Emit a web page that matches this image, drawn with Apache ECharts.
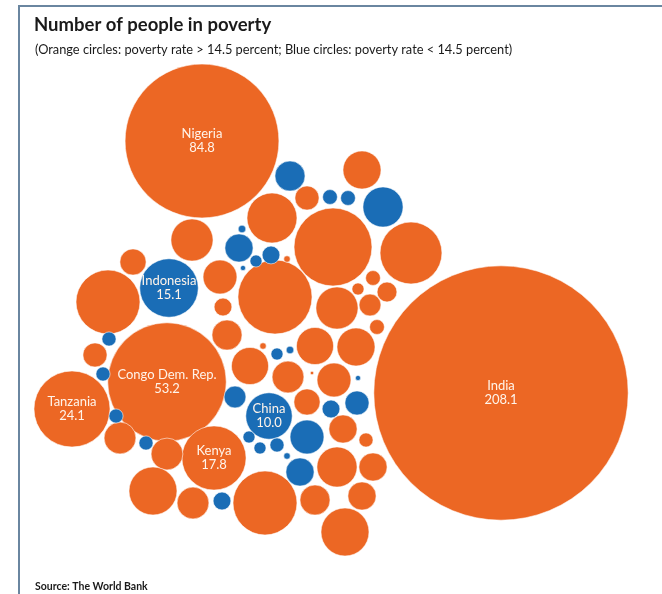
<!DOCTYPE html>
<html>
<head>
<meta charset="utf-8">
<title>Number of people in poverty</title>
<script src="https://cdn.jsdelivr.net/npm/echarts@6/dist/echarts.min.js"></script>
<style>
	html, body { margin: 0; padding: 0; background: #fff; }
	#chart { width: 662px; height: 594px; }
</style>
</head>
<body>
<div id="chart"></div>
<script>
// people in poverty (millions), one circle per country
// layoutX / layoutY = where the circle sits in the packed layout

// poverty rate > 14.5 percent
var highNames = ['India', 'Nigeria', 'Congo Dem. Rep.', 'Tanzania', 'Kenya',
	'', '', '', '', '', '', '', '', '', '', '', '', '', '', '', '', '', '', '', '', '',
	'', '', '', '', '', '', '', '', '', '', '', '', '', '', '', '', '', '', '', ''];
var highValues = [208.1, 84.8, 53.2, 24.1, 17.8,
	8.4, 3.6, 17.7, 3.1, 5.1, 5.1, 10.6, 5.1, 17.7, 4.6, 10.6, 4.1, 4.1, 7.7, 4.1,
	1.2, 3.6, 5.7, 5.1, 0.1, 6.7, 0.3, 4.6, 6.7, 7.0, 1.3, 2.6, 2.2, 0.9, 1.3,
	8.4, 23.0, 1.8, 5.7, 0.3, 11.4, 25.2, 16.7, 3.1, 7.0];
var highX = [501, 202, 167, 72, 214,
	192, 133, 108, 95, 120, 167, 153, 193, 265, 315, 345, 362, 373, 337, 343,
	366, 307, 334, 288, 312, 250, 263, 227, 315, 356, 377, 370, 387, 358, 373,
	337, 275, 223, 220, 287, 272, 333, 411, 307, 362];
var highY = [393, 141, 382, 409, 458,
	240, 262, 302, 355, 438, 454, 491, 503, 503, 500, 532, 496, 467, 467, 429,
	440, 402, 380, 377, 373, 366, 346, 335, 346, 347, 327, 305, 292, 289, 278,
	308, 297, 307, 277, 259, 218, 247, 253, 198, 170];

// poverty rate < 14.5 percent
var lowNames = ['Indonesia', 'China',
	'', '', '', '', '', '', '', '', '', '', '', '', '', '', '', '', '', '', '', '', '', '', '', '', '', ''];
var lowValues = [15.1, 10.0,
	4.6, 1.3, 1.3, 7.7, 0.4, 4.1, 0.9, 1.8, 0.2, 1.2, 1.2, 1.2, 1.2, 1.8,
	2.6, 0.9, 0.4, 0.2, 1.8, 3.1, 5.7, 4.1, 0.9, 0.9, 1.2, 0.3];
var lowX = [169, 269,
	290, 330, 348, 383, 242, 239, 256, 271, 243, 109, 103, 116, 146, 222,
	235, 277, 290, 358, 331, 357, 307, 300, 249, 260, 277, 287];
var lowY = [288, 416,
	176, 197, 198, 207, 229, 248, 261, 255, 268, 339, 374, 416, 443, 501,
	397, 354, 350, 378, 409, 403, 437, 472, 437, 448, 445, 456];

var titleText = 'Number of people in poverty';
var subText = '(Orange circles: poverty rate > 14.5 percent; Blue circles: poverty rate < 14.5 percent)';
var sourceText = 'Source: The World Bank';

function buildData(names, xs, ys, values) {
	var list = [];
	for (var i = 0; i < values.length; i++) {
		list.push({ name: names[i], value: [xs[i], ys[i], values[i]] });
	}
	return list;
}

// radius grows a bit faster than sqrt in the original graphic
function bubbleSize(val) {
	return 2 * 6.4 * Math.pow(val[2], 0.56);
}

var labelStyle = {
	show: true,
	position: 'inside',
	color: '#fff4ea',
	fontFamily: 'Lato, "Open Sans", sans-serif',
	fontSize: 13,
	lineHeight: 14,
	formatter: function (p) {
		if (!p.name) {
			return '';
		}
		return p.name + '\n' + p.value[2].toFixed(1);
	}
};

var myChart = echarts.init(document.getElementById('chart'), null, { renderer: 'canvas' });

var options = {
	backgroundColor: '#fff',
	animation: false,
	title: [
		{
			text: titleText,
			left: 29,
			top: 11,
			textStyle: { fontFamily: 'Lato, sans-serif', fontSize: 18.5, fontWeight: 'bold', color: '#1a1a1a' }
		},
		{
			text: subText,
			left: 30,
			top: 38,
			textStyle: { fontFamily: 'Lato, sans-serif', fontSize: 12.8, fontWeight: 'normal', color: '#1a1a1a' }
		},
		{
			text: sourceText,
			left: 30,
			top: 576,
			textStyle: { fontFamily: 'Lato, sans-serif', fontSize: 10.5, fontWeight: 'bold', color: '#1a1a1a' }
		}
	],
	graphic: [
		{
			type: 'polyline',
			shape: { points: [[19, 594], [19, 6], [662, 6]] },
			style: { stroke: '#6a86a0', lineWidth: 2, fill: null }
		}
	],
	grid: { left: 0, right: 0, top: 0, bottom: 0 },
	xAxis: { type: 'value', min: 0, max: 662, show: false },
	yAxis: { type: 'value', min: 0, max: 594, inverse: true, show: false },
	series: [
		{
			name: 'rate > 14.5%',
			type: 'scatter',
			symbol: 'circle',
			symbolSize: bubbleSize,
			itemStyle: { color: '#ec6724', borderColor: 'rgba(255,255,255,0.7)', borderWidth: 0.8, opacity: 1 },
			label: labelStyle,
			data: buildData(highNames, highX, highY, highValues)
		},
		{
			name: 'rate < 14.5%',
			type: 'scatter',
			symbol: 'circle',
			symbolSize: bubbleSize,
			itemStyle: { color: '#1a6db6', borderColor: 'rgba(255,255,255,0.7)', borderWidth: 0.8, opacity: 1 },
			label: labelStyle,
			data: buildData(lowNames, lowX, lowY, lowValues)
		}
	]
};

myChart.setOption(options);
</script>
</body>
</html>
